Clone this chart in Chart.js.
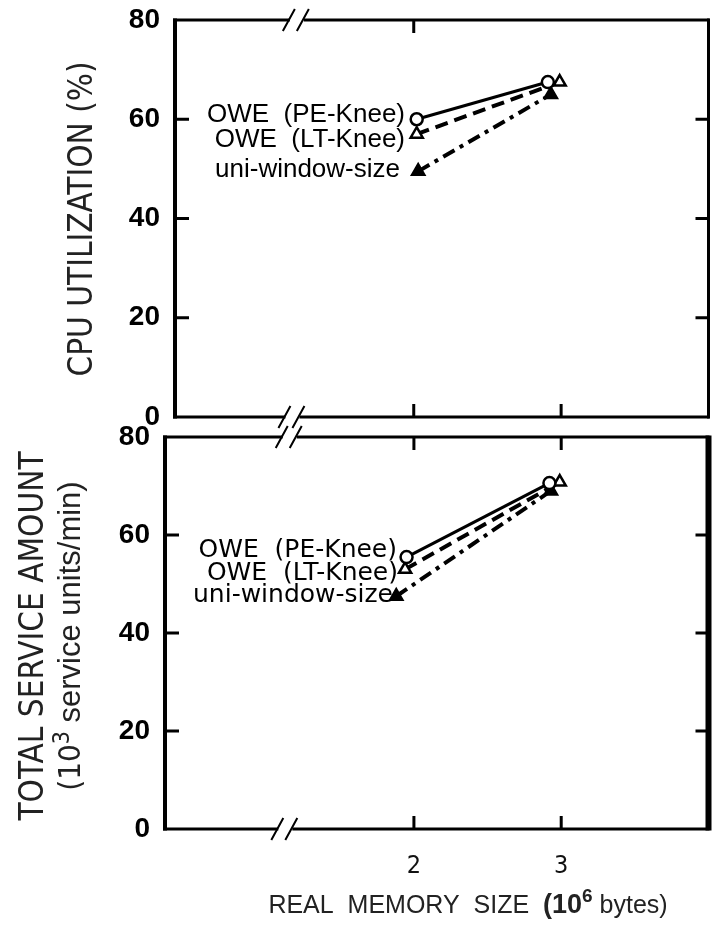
<!DOCTYPE html>
<html>
<head>
<meta charset="utf-8">
<script src="https://cdn.jsdelivr.net/npm/chart.js@4.4.0/dist/chart.umd.min.js"></script>
<style>
	html, body { margin: 0; padding: 0; background: #fff; }
	#wrap { position: relative; width: 718px; height: 934px; }
	.box { position: absolute; left: 0; width: 718px; }
	#topBox { top: 0; height: 432px; }
	#botBox { top: 420px; height: 514px; }
</style>
</head>
<body>
<div id="wrap">
	<div class="box" id="topBox"><canvas id="cpuChart"></canvas></div>
	<div class="box" id="botBox"><canvas id="svcChart"></canvas></div>
</div>
<script>
// tick values
const memTicks = [2, 3];
const valueTicks = [0, 20, 40, 60, 80];
const seriesNames = ['OWE  (PE-Knee)', 'OWE  (LT-Knee)', 'uni-window-size'];

// CPU utilization (%) vs real memory size (10^6 bytes)
const cpuPeX = [2.02, 2.91], cpuPeY = [60, 67.5];
const cpuLtX = [2.02, 2.99], cpuLtY = [57, 67.5];
const cpuUniX = [2.03, 2.93], cpuUniY = [49.5, 65];

// total service amount (10^3 service units/min)
const svcPeX = [1.95, 2.92], svcPeY = [55.5, 70.6];
const svcLtX = [1.94, 2.99], svcLtY = [53, 70.8];
const svcUniX = [1.88, 2.93], svcUniY = [47.5, 69];

const pts = (xs, ys) => xs.map((x, i) => ({ x: x, y: ys[i] }));

const SANS = "'Liberation Sans', Arial, sans-serif";
const NARROW = "'Liberation Sans Narrow', 'DejaVu Sans Condensed', sans-serif";

// line / marker look of the three series
const looks = [
	{ borderWidth: 3, borderDash: [], pointStyle: 'circle', pointRadius: 6, pointBackgroundColor: '#fff', pointRotation: 0 },
	{ borderWidth: 4, borderDash: [13, 7], pointStyle: 'triangle', pointRadius: 7, pointBackgroundColor: '#fff', pointRotation: 0 },
	{ borderWidth: 4, borderDash: [13, 6, 4, 6], pointStyle: 'triangle', pointRadius: 7, pointBackgroundColor: '#000', pointRotation: 240 }
];

function makeSets(series) {
	return series.map((data, i) => Object.assign({
		label: seriesNames[i],
		data: data,
		borderColor: '#000',
		pointBorderColor: '#000',
		pointBorderWidth: 2.5,
		pointHoverRadius: 6,
		showLine: true,
		fill: false
	}, looks[i]));
}

// draw text made of several pieces (superscripts etc.) centred on cx
function drawPieces(ctx, pieces, cx, base) {
	let total = 0;
	pieces.forEach(p => { ctx.font = p.font; total += ctx.measureText(p.t).width; });
	let x = cx - total / 2;
	pieces.forEach(p => {
		ctx.font = p.font;
		ctx.fillText(p.t, x, base - (p.up || 0));
		x += ctx.measureText(p.t).width;
	});
}

// frame with broken x axis and inward ticks
const framePlugin = {
	id: 'frame',
	afterDraw(chart, args, o) {
		const { ctx, chartArea: a, scales: { x, y } } = chart;
		const line = (x1, y1, x2, y2) => { ctx.moveTo(x1, y1); ctx.lineTo(x2, y2); };
		ctx.save();
		ctx.strokeStyle = '#000';
		ctx.setLineDash([]);
		[[a.top, o.breakTop], [a.bottom, o.breakBottom]].forEach(([yy, bv]) => {
			const bx = x.getPixelForValue(bv);
			ctx.lineWidth = 3;
			ctx.beginPath();
			line(a.left - 2, yy, bx - 6, yy);
			line(bx + 8, yy, a.right + 1, yy);
			ctx.stroke();
			ctx.lineWidth = 2;
			ctx.beginPath();
			line(bx - 13, yy + 11, bx - 1, yy - 11);
			line(bx + 1, yy + 11, bx + 13, yy - 11);
			ctx.stroke();
		});
		ctx.lineWidth = 4;
		ctx.beginPath();
		line(a.left, a.top - 1.5, a.left, a.bottom + 1.5);
		ctx.stroke();
		ctx.lineWidth = o.rightWidth;
		ctx.beginPath();
		line(a.right, a.top - 1.5, a.right, a.bottom + 1.5);
		ctx.stroke();
		ctx.lineWidth = 3;
		ctx.beginPath();
		valueTicks.slice(1, -1).forEach(v => {
			const py = y.getPixelForValue(v);
			line(a.left, py, a.left + 14, py);
			line(a.right - 13, py, a.right, py);
		});
		memTicks.forEach(v => {
			const px = x.getPixelForValue(v);
			line(px, a.bottom, px, a.bottom - 13);
		});
		o.topTicks.forEach(v => {
			const px = x.getPixelForValue(v);
			line(px, a.top, px, a.top + 13);
		});
		ctx.stroke();
		ctx.restore();
	}
};

// series names written next to the left-hand points
const namesPlugin = {
	id: 'names',
	afterDatasetsDraw(chart, args, o) {
		const ctx = chart.ctx;
		ctx.save();
		ctx.fillStyle = '#000';
		ctx.textAlign = 'right';
		ctx.textBaseline = 'alphabetic';
		ctx.font = o.font;
		seriesNames.forEach((name, i) => ctx.fillText(name, o.right[i], o.base[i]));
		ctx.restore();
	}
};

// axis titles
const titlesPlugin = {
	id: 'titles',
	afterDraw(chart, args, o) {
		const ctx = chart.ctx;
		ctx.save();
		ctx.fillStyle = '#222';
		ctx.textAlign = 'left';
		ctx.textBaseline = 'alphabetic';
		o.rotated.forEach(r => {
			ctx.save();
			ctx.translate(r.x, r.cy);
			ctx.rotate(-Math.PI / 2);
			drawPieces(ctx, r.pieces, 0, 0);
			ctx.restore();
		});
		(o.flat || []).forEach(f => drawPieces(ctx, f.pieces, f.cx, f.base));
		ctx.restore();
	}
};

function makeChart(id, series, cfg) {
	return new Chart(document.getElementById(id), {
		type: 'scatter',
		data: { datasets: makeSets(series) },
		options: {
			responsive: true,
			maintainAspectRatio: false,
			animation: false,
			layout: { padding: cfg.padding },
			plugins: {
				legend: { display: false },
				tooltip: { enabled: false },
				frame: cfg.frame,
				names: cfg.names,
				titles: cfg.titles
			},
			scales: {
				x: {
					type: 'linear',
					min: cfg.xMin,
					max: 4,
					display: cfg.showX,
					afterBuildTicks: s => { s.ticks = memTicks.map(v => ({ value: v })); },
					afterFit: s => {
						if (cfg.xHeight) s.height = cfg.xHeight;
						s.paddingLeft = 0; s.paddingRight = 0;
					},
					grid: { display: false, drawTicks: false },
					border: { display: false },
					ticks: {
						padding: 22,
						color: '#111',
						font: { family: NARROW, size: 25 }
					}
				},
				y: {
					min: 0,
					max: 80,
					afterBuildTicks: s => { s.ticks = valueTicks.map(v => ({ value: v })); },
					afterFit: s => {
						s.width = cfg.yWidth;
						s.paddingTop = 0; s.paddingBottom = 0;
					},
					grid: { display: false, drawTicks: false },
					border: { display: false },
					ticks: {
						padding: 15,
						color: '#000',
						font: { family: SANS, size: 28, weight: 'bold' }
					}
				}
			}
		},
		plugins: [framePlugin, namesPlugin, titlesPlugin]
	});
}

const cpuChart = makeChart('cpuChart',
	[pts(cpuPeX, cpuPeY), pts(cpuLtX, cpuLtY), pts(cpuUniX, cpuUniY)],
	{
		padding: { left: 0, right: 3, top: 20, bottom: 15 },
		xMin: 0.38, showX: false, yWidth: 175,
		frame: { breakTop: 1.2, breakBottom: 1.17, topTicks: [2], rightWidth: 3 },
		names: { font: '26px ' + SANS, right: [405, 405, 400], base: [122, 147, 177] },
		titles: {
			rotated: [{ x: 92, cy: 219, pieces: [{ t: 'CPU UTILIZATION (%)', font: '33px ' + NARROW }] }]
		}
	});

// bottom canvas starts 420px down the page
const svcChart = makeChart('svcChart',
	[pts(svcPeX, svcPeY), pts(svcLtX, svcLtY), pts(svcUniX, svcUniY)],
	{
		padding: { left: 0, right: 4, top: 17, bottom: 0 },
		xMin: 0.31, showX: true, xHeight: 105, yWidth: 165,
		frame: { breakTop: 1.15, breakBottom: 1.12, topTicks: [2, 3], rightWidth: 6 },
		names: { font: '25px "DejaVu Sans", sans-serif', right: [397, 398, 393], base: [137, 160, 182] },
		titles: {
			rotated: [
				{ x: 43, cy: 216, pieces: [{ t: 'TOTAL SERVICE AMOUNT', font: '33px ' + NARROW }] },
				{ x: 80, cy: 216, pieces: [
					{ t: '(10', font: '31px ' + NARROW },
					{ t: '3', font: '23px ' + NARROW, up: 11 },
					{ t: ' service units/min)', font: '31px ' + SANS }
				] }
			],
			flat: [{ cx: 468, base: 493, pieces: [
				{ t: 'REAL  MEMORY  SIZE  ', font: '25px ' + SANS },
				{ t: '(10', font: 'bold 27px ' + SANS },
				{ t: '6', font: 'bold 19px ' + SANS, up: 11 },
				{ t: ' bytes)', font: '25px ' + SANS }
			] }]
		}
	});
</script>
</body>
</html>
